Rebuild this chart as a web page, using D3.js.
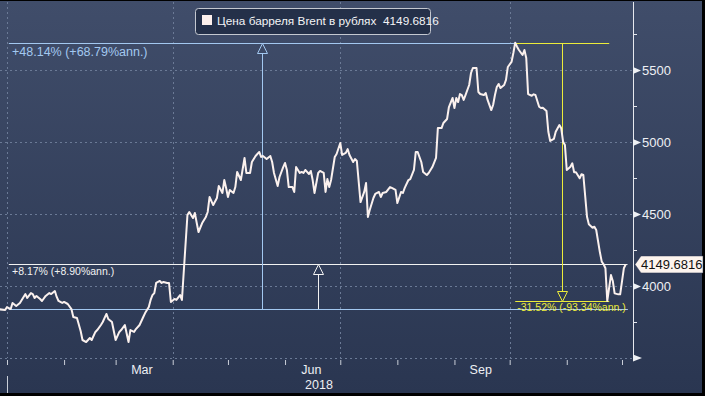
<!DOCTYPE html>
<html>
<head>
<meta charset="utf-8">
<script src="https://cdnjs.cloudflare.com/ajax/libs/d3/7.8.5/d3.min.js"></script>
<style>
  html, body { margin: 0; padding: 0; background: #000; }
  svg { display: block; font-family: "Liberation Sans", Arial, sans-serif; }
</style>
</head>
<body>
<div id="chart"></div>
<script>
// --- data ---
var dates = [
  "2017-12-28","2017-12-31","2018-01-01","2018-01-03","2018-01-04","2018-01-06","2018-01-08","2018-01-10",
  "2018-01-11","2018-01-12","2018-01-14","2018-01-15","2018-01-16","2018-01-17","2018-01-19","2018-01-20",
  "2018-01-22","2018-01-24","2018-01-25","2018-01-27","2018-01-28","2018-01-29","2018-01-31","2018-02-01",
  "2018-02-03","2018-02-05","2018-02-06","2018-02-08","2018-02-10","2018-02-11","2018-02-13","2018-02-15",
  "2018-02-16","2018-02-18","2018-02-19","2018-02-21","2018-02-22","2018-02-24","2018-02-25","2018-02-27",
  "2018-03-01","2018-03-03","2018-03-04","2018-03-06","2018-03-08","2018-03-09","2018-03-11","2018-03-12",
  "2018-03-14","2018-03-16","2018-03-17","2018-03-19","2018-03-20","2018-03-21","2018-03-22","2018-03-23",
  "2018-03-25","2018-03-26","2018-03-27","2018-03-29","2018-03-30","2018-03-31","2018-04-02","2018-04-03",
  "2018-04-05","2018-04-06","2018-04-09","2018-04-10","2018-04-12","2018-04-13","2018-04-15","2018-04-17",
  "2018-04-19","2018-04-20","2018-04-21","2018-04-23","2018-04-25","2018-04-26","2018-04-28","2018-04-29",
  "2018-04-30","2018-05-01","2018-05-02","2018-05-04","2018-05-05","2018-05-06","2018-05-08","2018-05-10",
  "2018-05-11","2018-05-13","2018-05-14","2018-05-16","2018-05-18","2018-05-19","2018-05-20","2018-05-22",
  "2018-05-24","2018-05-25","2018-05-26","2018-05-28","2018-05-29","2018-05-31","2018-06-01","2018-06-02",
  "2018-06-03","2018-06-05","2018-06-06","2018-06-07","2018-06-09","2018-06-10","2018-06-11","2018-06-12",
  "2018-06-14","2018-06-15","2018-06-16","2018-06-17","2018-06-19","2018-06-20","2018-06-22","2018-06-23",
  "2018-06-24","2018-06-25","2018-06-26","2018-06-28","2018-06-29","2018-07-01","2018-07-02","2018-07-04",
  "2018-07-05","2018-07-06","2018-07-08","2018-07-09","2018-07-10","2018-07-12","2018-07-14","2018-07-15",
  "2018-07-16","2018-07-17","2018-07-19","2018-07-20","2018-07-22","2018-07-23","2018-07-24","2018-07-26",
  "2018-07-28","2018-07-29","2018-07-31","2018-08-01","2018-08-03","2018-08-04","2018-08-05","2018-08-07",
  "2018-08-08","2018-08-10","2018-08-11","2018-08-12","2018-08-14","2018-08-15","2018-08-17","2018-08-18",
  "2018-08-20","2018-08-22","2018-08-23","2018-08-25","2018-08-26","2018-08-28","2018-08-29","2018-08-31",
  "2018-09-01","2018-09-02","2018-09-03","2018-09-04","2018-09-05","2018-09-06","2018-09-07","2018-09-09",
  "2018-09-10","2018-09-11","2018-09-13","2018-09-14","2018-09-15","2018-09-17","2018-09-18","2018-09-19",
  "2018-09-21","2018-09-22","2018-09-23","2018-09-24","2018-09-25","2018-09-26","2018-09-28","2018-09-29",
  "2018-09-30","2018-10-02","2018-10-03","2018-10-04","2018-10-05","2018-10-06","2018-10-08","2018-10-09",
  "2018-10-10","2018-10-11","2018-10-13","2018-10-14","2018-10-15","2018-10-17","2018-10-18","2018-10-19",
  "2018-10-21","2018-10-22","2018-10-23","2018-10-25","2018-10-26","2018-10-28","2018-10-29","2018-10-30",
  "2018-10-31","2018-11-01","2018-11-03","2018-11-04","2018-11-05","2018-11-06","2018-11-08","2018-11-09",
  "2018-11-10","2018-11-12","2018-11-13","2018-11-15","2018-11-16","2018-11-17","2018-11-19","2018-11-20",
  "2018-11-21","2018-11-22","2018-11-23","2018-11-25","2018-11-26","2018-11-27","2018-11-29","2018-11-30",
  "2018-12-02","2018-12-03"
];
var prices = [
  3838,3833,3854,3840,3882,3861,3882,3924,
  3944,3917,3951,3944,3917,3931,3910,3896,
  3931,3951,3944,3965,3924,3896,3882,3889,
  3875,3840,3785,3778,3688,3625,3611,3639,
  3625,3681,3694,3729,3750,3806,3771,3750,
  3625,3681,3694,3729,3611,3694,3681,3701,
  3729,3785,3812,3854,3903,3937,3951,4021,
  4035,4021,4028,4021,4021,3889,3910,3903,
  3937,3903,4493,4514,4472,4507,4375,4437,
  4479,4514,4618,4562,4611,4694,4646,4736,
  4681,4618,4667,4646,4687,4792,4736,4889,
  4785,4785,4861,4903,4931,4896,4903,4882,
  4903,4861,4785,4694,4757,4826,4854,4806,
  4687,4687,4653,4826,4785,4792,4785,4806,
  4778,4799,4736,4646,4785,4799,4785,4653,
  4743,4687,4736,4896,4917,4993,4910,4924,
  4951,4910,4861,4882,4868,4583,4653,4715,
  4479,4528,4611,4639,4653,4618,4646,4653,
  4687,4681,4667,4576,4653,4646,4681,4736,
  4743,4806,4931,4931,4861,4792,4771,4785,
  4826,4889,5097,5097,5132,5160,5243,5306,
  5236,5306,5278,5333,5326,5292,5326,5396,
  5479,5514,5514,5347,5333,5326,5340,5292,
  5222,5257,5326,5382,5403,5375,5396,5431,
  5521,5556,5618,5690,5662,5639,5604,5639,
  5583,5333,5321,5331,5326,5245,5236,5238,
  5215,5071,5007,5021,5071,5118,5095,5002,
  4979,4806,4828,4852,4790,4790,4748,4776,
  4771,4481,4428,4405,4412,4389,4234,4169,
  4151,4123,3896,4076,4035,3949,3942,3942,
  4123,4150
];

var seriesName = "Цена барреля Brent в рублях";
var lastValue = "4149.6816";

var yMajorTicks = [4000, 4500, 5000, 5500];
var yMinorTicks = [3750, 4250, 4750, 5250, 5750];
var yGridValues = [3500, 4000, 4500, 5000, 5500];
var monthLabelDates = ["2018-03-15", "2018-06-15", "2018-09-15"];
var yearLabel = "2018";

// measurement annotations: start date, end date, start value, end value, text
var measureFrom = ["2018-01-02", "2018-01-02", "2018-10-04"];
var measureTo = ["2018-10-04", "2018-12-04", "2018-11-23"];
var measureStart = [3839, 3839, 5687.5];
var measureEnd = [5687.5, 4149.68, 3895];
var measureText = ["+48.14% (+68.79%ann.)", "+8.17% (+8.90%ann.)", "-31.52% (-93.34%ann.)"];

// --- layout ---
var W = 705, H = 396;
var plotLeft = 0, plotRight = 633, plotTop = 2, plotBottom = 358;

var parse = d3.utcParse("%Y-%m-%d");
var data = dates.map(function(d, i) { return { date: parse(d), value: prices[i] }; });

var x = d3.scaleUtc()
  .domain([parse("2018-01-01"), parse("2018-12-01")])
  .range([7, 622]);
var y = d3.scaleLinear()
  .domain([3500, 5500])
  .range([358, 70]);

var svg = d3.select('#chart').append('svg')
  .attr('width', W)
  .attr('height', H);

var defs = svg.append('defs');
var grad = defs.append('linearGradient').attr('id', 'bg').attr('x1', 0).attr('y1', 0).attr('x2', 0).attr('y2', 1);
grad.append('stop').attr('offset', '0%').attr('stop-color', '#404d6a');
grad.append('stop').attr('offset', '100%').attr('stop-color', '#2a3651');
defs.append('clipPath').attr('id', 'plotclip').append('rect')
  .attr('x', plotLeft).attr('y', plotTop)
  .attr('width', plotRight - plotLeft).attr('height', plotBottom - plotTop);

svg.append('rect').attr('width', W).attr('height', H).attr('fill', '#000');
svg.append('rect').attr('x', 0).attr('y', 1).attr('width', 702).attr('height', 392).attr('fill', 'url(#bg)');

// gridlines
var grid = svg.append('g').attr('class', 'grid')
  .attr('stroke', '#6b7a96').attr('stroke-width', 1).attr('stroke-dasharray', '2,3');
grid.selectAll('line.h').data(yGridValues).enter().append('line')
  .attr('class', 'h')
  .attr('x1', plotLeft).attr('x2', plotRight)
  .attr('y1', function(d) { return Math.round(y(d)) + 0.5; })
  .attr('y2', function(d) { return Math.round(y(d)) + 0.5; });
grid.selectAll('line.v').data(x.ticks(d3.utcMonth.every(3))).enter().append('line')
  .attr('class', 'v')
  .attr('y1', plotTop).attr('y2', plotBottom)
  .attr('x1', function(d) { return Math.round(x(d)) + 0.5; })
  .attr('x2', function(d) { return Math.round(x(d)) + 0.5; });

// x axis: month ticks
var xTicks = svg.append('g')
  .attr('transform', 'translate(0,' + (plotBottom + 2) + ')')
  .call(d3.axisBottom(x).ticks(d3.utcMonth.every(1)).tickSize(5).tickFormat(''));
xTicks.select('.domain').remove();
xTicks.selectAll('line').attr('stroke', '#c9ced8');

var xLabels = svg.append('g')
  .attr('transform', 'translate(0,' + (plotBottom + 4) + ')')
  .call(d3.axisBottom(x).tickValues(monthLabelDates.map(parse)).tickSize(0).tickFormat(d3.utcFormat('%b')));
xLabels.select('.domain').remove();
xLabels.selectAll('text').attr('fill', '#eef0f4').attr('font-size', 12.5)
  .attr('font-family', '"Liberation Sans", Arial, sans-serif');

svg.append('text').attr('x', 319).attr('y', 389).attr('text-anchor', 'middle')
  .attr('fill', '#eef0f4').attr('font-size', 12.5).text(yearLabel);
svg.append('line').attr('x1', 7.5).attr('x2', 7.5).attr('y1', 376).attr('y2', 393)
  .attr('stroke', '#c9ced8');

// y axis
var yAxisG = svg.append('g').attr('transform', 'translate(' + plotRight + ',0)');
yAxisG.append('line').attr('x1', 0.5).attr('x2', 0.5).attr('y1', plotTop).attr('y2', plotBottom)
  .attr('stroke', '#e6e8ee');
var yMinor = yAxisG.append('g')
  .call(d3.axisRight(y).tickValues(yMinorTicks).tickSize(4).tickFormat(''));
yMinor.select('.domain').remove();
yMinor.selectAll('line').attr('stroke', '#e6e8ee');

var yMajor = yAxisG.append('g')
  .call(d3.axisRight(y).tickValues(yMajorTicks).tickSize(0).tickPadding(9).tickFormat(d3.format('d')));
yMajor.select('.domain').remove();
yMajor.selectAll('text').attr('fill', '#eef0f4').attr('font-size', 13)
  .attr('font-family', '"Liberation Sans", Arial, sans-serif');
yMajor.selectAll('.tick').append('path')
  .attr('d', 'M0,-3.5L8,0L0,3.5Z').attr('fill', '#eef0f4');
// arrow at the bottom of the axis
yAxisG.append('path').attr('d', 'M0,' + (plotBottom - 3.5) + 'L9,' + plotBottom + 'L0,' + (plotBottom + 3.5) + 'Z')
  .attr('fill', '#eef0f4');

// annotations, drawn under the price line
var annColors = ['#a3c8f0', '#f2f2f2', '#ecec3a'];
var annLayer = svg.append('g').attr('clip-path', 'url(#plotclip)');

// startEnd: where the start-value line stops (defaults to x1)
function drawMeasure(i, x0, x1, textPos, fontSize, startEnd) {
  var c = annColors[i];
  var ys = Math.round(y(measureStart[i])) + 0.5, ye = Math.round(y(measureEnd[i])) + 0.5;
  var dir = ye < ys ? 1 : -1;
  var xm = Math.round((x0 + x1) / 2) + 0.5;
  var g = annLayer.append('g').attr('stroke', c).attr('fill', 'none').attr('stroke-width', 1);
  g.append('line').attr('x1', x0).attr('x2', startEnd || x1).attr('y1', ys).attr('y2', ys);
  g.append('line').attr('x1', x0).attr('x2', x1).attr('y1', ye).attr('y2', ye);
  g.append('line').attr('x1', xm).attr('x2', xm).attr('y1', ys).attr('y2', ye + dir * 10);
  g.append('path')
    .attr('d', 'M' + xm + ',' + ye + 'L' + (xm - 5) + ',' + (ye + dir * 10) + 'L' + (xm + 5) + ',' + (ye + dir * 10) + 'Z');
  annLayer.append('text')
    .attr('x', textPos[0]).attr('y', textPos[1])
    .attr('fill', c).attr('font-size', fontSize).text(measureText[i]);
}

// white: start to latest, blue: start to peak, yellow: peak to low
var xs0 = x(parse(measureFrom[0]));
var xLast = x(parse(measureTo[1]));
drawMeasure(1, xs0, xLast, [12, 275], 10.5);
drawMeasure(0, xs0, x(parse(measureTo[0])), [12, 56], 12.5, xLast);
var xp = x(parse(measureFrom[2]));
drawMeasure(2, xp, xp + 94, [xp + 2, y(measureEnd[2]) + 9.8], 10.5);

// price line
var line = d3.line()
  .x(function(d) { return x(d.date); })
  .y(function(d) { return y(d.value); });
svg.append('g').attr('clip-path', 'url(#plotclip)').append('path')
  .datum(data)
  .attr('d', line)
  .attr('fill', 'none')
  .attr('stroke', '#fbf1ee')
  .attr('stroke-width', 2)
  .attr('stroke-linejoin', 'round');

// last value tag
var lastY = y(+lastValue);
svg.append('path')
  .attr('d', 'M635,' + lastY + 'L641,' + (lastY - 8.5) + 'L703,' + (lastY - 8.5) + 'L703,' + (lastY + 8.5) + 'L641,' + (lastY + 8.5) + 'Z')
  .attr('fill', '#fdf4ee').attr('stroke', '#2a3450').attr('stroke-width', 0.5);
svg.append('text').attr('x', 641).attr('y', lastY + 4.5)
  .attr('fill', '#111').attr('font-size', 13).text(lastValue);

// legend
var leg = svg.append('g');
leg.append('rect').attr('x', 195.5).attr('y', 8.5).attr('width', 235).attr('height', 26).attr('rx', 3)
  .attr('fill', '#243049').attr('stroke', '#c4c8d0').attr('stroke-width', 1);
leg.append('rect').attr('x', 202).attr('y', 15).attr('width', 10).attr('height', 10).attr('fill', '#fdf0ec');
leg.append('text').attr('x', 217).attr('y', 25).attr('fill', '#f4f4f6').attr('font-size', 11.8)
  .attr('xml:space', 'preserve')
  .text(seriesName + '  ' + lastValue);
</script>
</body>
</html>
